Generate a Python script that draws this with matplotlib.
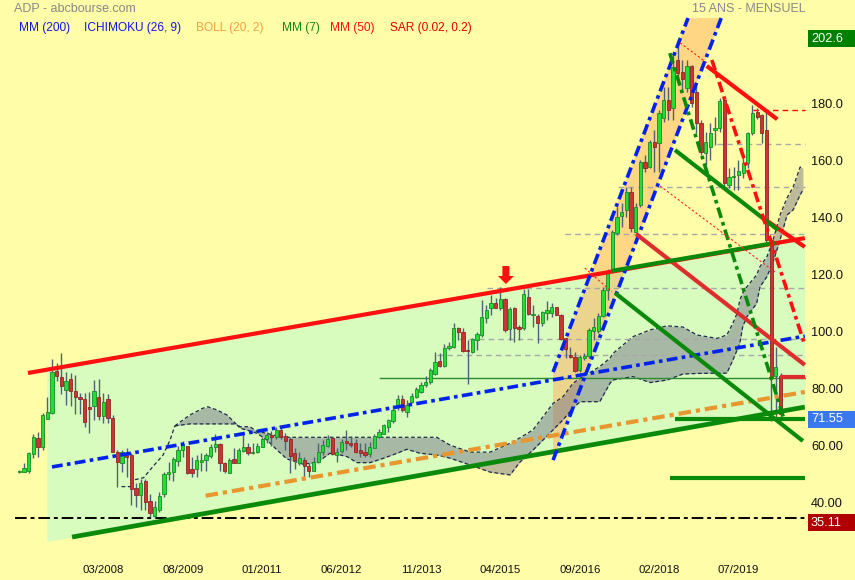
import numpy as np
import matplotlib
matplotlib.use("Agg")
import matplotlib.pyplot as plt
from matplotlib.patches import Polygon, Rectangle
import matplotlib.transforms as mtransforms

plt.rcParams['font.family'] = ['Liberation Sans', 'DejaVu Sans']

# ---------------- data (monthly OHLC, ADP) ----------------
opens = [51.3, 51.3, 51.7, 57.4, 63.0, 59.9, 69.9, 72.0, 86.7, 84.4,
         80.0, 83.7, 79.6, 77.4, 76.7, 73.9, 74.5, 77.4, 70.9, 76.7,
         70.1, 58.4, 54.3, 57.8, 57.2, 45.5, 43.2, 48.2, 40.9, 35.8,
         37.9, 43.5, 50.6, 51.3, 55.2, 58.9, 60.3, 52.2, 52.2, 54.9,
         55.4, 57.0, 59.9, 61.1, 54.3, 51.0, 55.8, 54.5, 58.7, 59.9,
         57.8, 58.1, 60.1, 62.8, 64.2, 63.6, 66.0, 63.9, 62.8, 57.8,
         54.3, 55.4, 53.3, 51.7, 54.9, 58.1, 60.5, 63.0, 57.2, 58.7,
         62.1, 61.5, 61.3, 58.9, 58.2, 57.5, 59.8, 63.6, 64.6, 67.1,
         69.2, 74.2, 76.8, 72.2, 75.9, 77.7, 79.4, 81.8, 82.7, 85.6,
         90.3, 88.5, 94.6, 95.2, 101.6, 100.2, 94.0, 93.5, 97.5, 99.3,
         105.1, 108.9, 110.4, 108.9, 111.8, 101.4, 108.7, 102.0, 101.6, 112.5,
         106.3, 106.0, 103.6, 106.9, 107.1, 109.0, 106.3, 98.1, 92.3, 91.7,
         87.0, 91.1, 91.9, 100.8, 100.8, 106.0, 115.1, 122.1, 135.2, 141.2,
         143.2, 149.6, 135.6, 144.9, 160.1, 158.4, 167.1, 166.5, 175.3, 181.7,
         178.8, 195.8, 191.7, 185.8, 193.7, 184.7, 173.6, 163.0, 165.4, 171.2,
         171.8, 181.7, 151.9, 154.6, 155.4, 156.2, 159.5, 170.1, 177.4, 176.5,
         171.2, 132.6, 84.9, 84.9]
highs = [51.9, 54.3, 58.4, 64.4, 65.4, 72.0, 77.4, 90.8, 89.4, 92.9,
         86.3, 86.1, 85.3, 79.1, 79.1, 79.2, 83.5, 83.7, 78.8, 78.5,
         71.2, 58.9, 58.9, 59.5, 57.8, 47.3, 48.7, 48.7, 43.5, 41.2,
         44.3, 51.3, 54.9, 56.4, 60.3, 62.1, 60.5, 56.6, 57.2, 58.0,
         58.0, 61.1, 64.6, 61.3, 54.9, 56.0, 59.5, 59.5, 65.4, 61.3,
         61.3, 61.3, 63.6, 65.4, 65.7, 67.1, 66.6, 64.8, 63.6, 59.5,
         58.4, 56.6, 54.3, 56.6, 61.3, 62.5, 64.2, 63.4, 59.5, 62.7,
         66.0, 63.9, 62.7, 61.3, 61.3, 61.9, 64.6, 66.2, 67.9, 69.7,
         74.7, 78.2, 78.2, 76.5, 78.8, 80.9, 82.9, 84.9, 87.6, 93.4,
         92.9, 96.1, 97.0, 103.4, 102.2, 101.6, 97.5, 98.1, 100.5, 111.6,
         109.8, 113.3, 112.2, 116.3, 112.2, 109.2, 109.2, 102.8, 115.3, 115.3,
         109.8, 106.6, 107.8, 111.3, 110.6, 109.2, 106.6, 98.3, 95.0, 93.5,
         92.3, 92.9, 101.6, 105.2, 106.9, 116.3, 122.3, 136.1, 144.3, 145.5,
         151.3, 151.3, 145.5, 160.7, 162.5, 167.7, 171.2, 178.2, 186.4, 186.4,
         198.1, 202.6, 195.8, 195.8, 194.0, 187.6, 174.7, 170.6, 173.6, 175.9,
         182.3, 182.9, 157.8, 158.4, 160.7, 162.5, 170.6, 180.0, 178.8, 176.8,
         178.2, 133.5, 95.1, 86.0]
lows = [50.8, 51.1, 51.0, 56.0, 56.4, 58.9, 69.7, 71.6, 83.3, 78.5,
        74.6, 74.5, 71.5, 71.5, 66.9, 64.8, 69.5, 69.5, 68.3, 68.3,
        58.1, 46.1, 51.3, 49.6, 39.6, 39.1, 37.9, 37.9, 35.6, 35.11,
        37.3, 42.6, 48.4, 48.2, 53.4, 56.6, 50.5, 49.4, 49.6, 51.7,
        51.7, 56.0, 58.4, 51.4, 50.8, 50.8, 54.3, 54.3, 58.4, 57.2,
        57.5, 57.8, 59.9, 61.3, 60.4, 62.7, 62.7, 58.9, 50.8, 52.2,
        53.7, 49.6, 49.6, 51.4, 54.3, 57.2, 60.1, 57.2, 54.9, 57.8,
        58.9, 60.1, 57.8, 56.6, 56.6, 56.6, 59.5, 63.0, 64.4, 65.4,
        68.3, 73.0, 72.4, 70.4, 75.3, 77.1, 79.1, 81.2, 82.1, 85.3,
        88.2, 88.2, 94.0, 94.6, 97.5, 93.5, 82.1, 93.1, 94.0, 98.7,
        103.4, 106.3, 108.7, 108.1, 100.5, 97.5, 97.0, 97.5, 101.0, 106.3,
        102.2, 96.4, 102.5, 104.6, 105.5, 106.2, 97.5, 91.1, 91.1, 86.4,
        86.4, 90.5, 91.1, 97.5, 100.1, 105.7, 111.6, 121.5, 134.4, 137.3,
        140.8, 135.6, 135.0, 144.3, 156.6, 157.8, 156.6, 156.6, 174.1, 174.7,
        174.7, 189.9, 184.7, 184.7, 179.4, 170.1, 162.5, 158.9, 160.7, 166.0,
        170.6, 150.8, 150.8, 150.2, 150.2, 154.3, 157.8, 169.5, 175.1, 166.5,
        132.0, 69.0, 69.5, 70.0]
closes = [51.3, 52.7, 57.8, 63.4, 60.1, 71.1, 72.3, 86.3, 85.0, 81.5,
          83.2, 79.8, 77.7, 76.8, 68.9, 73.4, 79.6, 71.0, 75.8, 70.3,
          58.4, 54.9, 58.4, 56.6, 45.1, 43.2, 47.5, 40.6, 36.7, 38.8,
          42.8, 50.4, 51.1, 55.9, 58.9, 61.0, 50.8, 50.8, 55.4, 55.4,
          57.2, 59.9, 61.1, 54.3, 51.7, 55.4, 54.5, 58.9, 60.1, 57.8,
          58.1, 60.5, 62.7, 64.2, 63.6, 66.0, 63.6, 62.2, 56.9, 55.4,
          56.0, 53.3, 51.7, 54.9, 58.1, 60.7, 62.8, 57.5, 58.4, 61.9,
          61.3, 60.8, 58.4, 58.0, 57.3, 59.9, 63.9, 65.1, 67.7, 69.5,
          73.0, 76.8, 73.0, 74.7, 78.0, 80.4, 81.8, 82.9, 87.0, 89.7,
          88.4, 94.9, 95.4, 101.6, 100.2, 93.8, 93.7, 97.8, 99.5, 105.5,
          108.1, 110.4, 108.9, 111.8, 101.0, 108.4, 101.6, 101.3, 113.7, 106.5,
          106.6, 103.4, 107.5, 108.1, 109.0, 106.3, 97.9, 94.3, 91.5, 86.8,
          91.5, 91.9, 101.0, 102.0, 106.1, 115.2, 120.9, 135.6, 140.8, 142.6,
          149.6, 136.7, 144.3, 160.1, 157.8, 167.1, 165.4, 177.1, 181.7, 178.2,
          193.5, 191.1, 189.0, 193.7, 180.6, 173.6, 163.6, 167.1, 170.1, 171.8,
          181.4, 152.5, 154.8, 154.8, 156.8, 159.5, 170.1, 177.1, 175.7, 170.3,
          132.6, 84.6, 88.2, 71.55]

x_tick_pos = [18, 35, 52, 69, 86, 103, 120, 137, 154]
x_tick_labels = ['03/2008', '08/2009', '01/2011', '06/2012', '11/2013',
                 '04/2015', '09/2016', '02/2018', '07/2019']
y_ticks = [180, 160, 140, 120, 100, 80, 60, 40]
y_tick_labels = ['180.0', '160.0', '140.0', '120.0', '100.0', '80.00', '60.00', '40.00']
high_price = 202.6
last_price = 71.55
low_price = 35.11

# Ichimoku cloud (index, span 1, span 2) and leading span line
cloud_x = [33.3, 36.5, 39.3, 40.4, 42.3, 44.5, 46.4, 47.3, 49.4, 50.9, 53.0, 55.2,
           57.3, 60.7, 63.7, 65.0, 66.5, 68.0, 70.2, 72.3, 75.1, 77.9, 80.9, 83.0,
           85.8, 89.4, 92.2, 96.5, 100.8, 105.1, 107.2, 110.0, 114.3, 116.4, 118.6,
           120.1, 124.3, 126.5, 127.1, 131.4, 135.1, 138.7, 142.1, 145.1, 149.4,
           151.5, 152.8, 153.7, 154.3, 154.9, 155.8, 157.9, 158.6, 160.1, 161.4,
           162.9, 164.4, 165.7, 167.2, 167.8]
cloud_a = [67.4, 71.2, 73.6, 74.1, 73.0, 71.2, 68.1, 67.1, 67.1, 65.4, 64.8, 63.9,
           63.4, 63.4, 63.4, 63.4, 63.4, 63.4, 63.4, 63.4, 63.4, 63.4, 63.4, 63.4,
           63.4, 63.4, 60.7, 58.2, 58.2, 61.3, 63.2, 66.0, 75.3, 77.6, 82.4,
           84.1, 88.2, 91.2, 92.8, 98.7, 101.1, 102.5, 102.1, 99.3, 98.1,
           99.3, 103.4, 106.9, 111.6, 114.0, 116.2, 120.4, 123.3, 126.8, 132.6,
           141.4, 147.4, 151.2, 158.2, 157.9]
cloud_b = [67.4, 68.1, 68.1, 68.1, 68.1, 68.1, 68.1, 66.6, 65.6, 64.8, 62.5, 58.9,
           55.8, 54.0, 54.5, 56.0, 57.8, 57.5, 56.6, 54.5, 54.5, 56.0, 57.8, 59.2,
           57.8, 57.2, 56.1, 53.7, 51.2, 50.2, 54.7, 58.9, 66.0, 69.5, 73.7,
           75.9, 75.9, 82.4, 83.5, 84.7, 82.6, 83.5, 85.6, 85.8, 85.9,
           85.9, 90.5, 94.0, 96.4, 102.2, 105.7, 110.4, 116.2, 119.8, 124.9,
           132.6, 141.4, 143.2, 148.4, 150.2]
lead_x = [21.9, 24.1, 24.4, 26.6, 28.7, 30.8, 32.3, 33.3]
lead_y = [46.1, 46.1, 48.4, 49.2, 53.3, 57.2, 62.5, 67.4]

# Drawn trend lines: ((x0, y0), (x1, y1)) in (month index, price)
main_red = ((1.86, 85.96), (168.2, 133.3))
main_green = ((11.3, 28.4), (168.2, 74.0))
channel_left_x = 5.9
red_thick = [((147.2, 193.7), (162.3, 175.0)), ((159.9, 139.6), (168.2, 130.2))]
red_mid = [((132.1, 134.7), (168.2, 88.8))]
green_thick = [((140.4, 164.2), (162.5, 136.1)), ((126.9, 121.8), (161.8, 131.6)),
               ((127.6, 114.0), (167.8, 62.1))]
green_levels = [(140.4, 69.8), (139.3, 49.0)]
blue_trend = ((7.0, 53.0), (168.2, 98.9))
blue_channel = [((114.3, 86.3), (143.2, 210.5)), ((114.3, 55.4), (150.3, 210.5))]
orange_trend = ((39.9, 42.9), (168.2, 79.3))
green_steep = ((139.3, 198.2), (163.8, 69.5))
red_steep = ((148.3, 195.8), (168.2, 95.8))
red_dotted = [((141.5, 201.8), (147.3, 194.7)), ((137.2, 151.6), (161.8, 121.4)),
              ((121.1, 122.8), (126.9, 114.4))]
gray_levels = [(149.3, 166.2), (128.2, 151.3), (116.9, 134.6), (100.1, 115.7),
               (94.2, 97.8), (89.4, 92.2)]
red_level = (157.1, 178.2)
thin_green_level = (77.2, 84.3)
red_last_level = (162.8, 84.6)
arrow_idx, arrow_top, arrow_tip = 104.2, 123.5, 117.2
x_end = 168.2

# ---------------- figure ----------------
W, H = 855, 580
BG = '#FFFDA8'
fig = plt.figure(figsize=(W / 100, H / 100), dpi=100, facecolor=BG)
ax = fig.add_axes([15 / W, 25 / H, 791 / W, 555 / H])
ax.set_facecolor('none')
ax.set_xlim(-0.92, 168.46)
ax.set_ylim(22.1, 216.84)
ax.axis('off')


def line_at(seg, x):
    (x0, y0), (x1, y1) = seg
    return y0 + (y1 - y0) * (np.asarray(x) - x0) / (x1 - x0)


# big green channel fill
xs = np.array([channel_left_x, x_end])
ax.fill_between(xs, line_at(main_green, xs), line_at(main_red, xs),
                color='#D8FBBE', lw=0, zorder=1)

# orange steep channel fill
(l0, l1), (r0, r1) = blue_channel
ax.add_patch(Polygon([l0, l1, r1, r0], closed=True, facecolor='#FFB060',
                     alpha=0.5, lw=0, zorder=1.2))

# ichimoku cloud
ax.fill_between(cloud_x, cloud_a, cloud_b, color='#6C6A88', alpha=0.45, lw=0, zorder=1.5)
ax.plot(cloud_x, cloud_a, color='#1E2A4A', lw=0.9, ls=(0, (3, 2)), zorder=1.6)
ax.plot(cloud_x, cloud_b, color='#1E2A4A', lw=0.9, ls=(0, (3, 2)), zorder=1.6)
ax.plot(lead_x, lead_y, color='#1E2A4A', lw=0.9, ls=(0, (3, 2)), zorder=1.6)

# horizontal levels
for x0, v in gray_levels:
    ax.plot([x0, x_end], [v, v], color='#A8A8A8', lw=1.0, ls=(0, (4, 3)), zorder=2)
ax.plot([red_level[0], x_end], [red_level[1]] * 2, color='#FF0000', lw=1.0,
        ls=(0, (4, 3)), zorder=2)
ax.plot([thin_green_level[0], x_end], [thin_green_level[1]] * 2, color='#2E8B2E',
        lw=1.0, zorder=2)
ax.plot([-0.92, x_end], [low_price, low_price], color='#000000', lw=1.4,
        ls=(0, (6, 2, 2, 2)), zorder=2)

# candles
o = np.array(opens); h = np.array(highs); l = np.array(lows); c = np.array(closes)
idx = np.arange(len(o))
up = c >= o
ax.vlines(idx, l, h, color='#4F6378', lw=1.0, zorder=3)
bb = np.minimum(o, c)
bh = np.maximum(np.abs(c - o), 0.4)
ax.bar(idx[up], bh[up], bottom=bb[up], width=0.7, color='#22DD33',
       edgecolor='#1A8A2A', lw=0.6, zorder=3.1)
ax.bar(idx[~up], bh[~up], bottom=bb[~up], width=0.7, color='#CC3333',
       edgecolor='#8E2626', lw=0.6, zorder=3.1)

# trend lines
def seg(s, **kw):
    (x0, y0), (x1, y1) = s
    ax.plot([x0, x1], [y0, y1], solid_capstyle='butt', **kw)

seg(main_red, color='#FF1010', lw=3.0, zorder=4)
seg(main_green, color='#0A8A0A', lw=3.4, zorder=4)
seg(blue_trend, color='#0022EE', lw=2.6, ls=(0, (3, 1.2, 1, 1.2)), zorder=4)
seg(orange_trend, color='#E8962E', lw=3.0, ls=(0, (3, 1.2, 1, 1.2)), zorder=4)
for s in blue_channel:
    seg(s, color='#0022EE', lw=2.6, ls=(0, (3, 1.2, 1, 1.2)), zorder=4)
for s in red_thick:
    seg(s, color='#FF1010', lw=3.0, zorder=4)
for s in red_mid:
    seg(s, color='#DD2D2D', lw=3.0, zorder=4)
for s in green_thick:
    seg(s, color='#0A8A0A', lw=3.0, zorder=4)
for x0, v in green_levels:
    ax.plot([x0, x_end], [v, v], color='#0A8A0A', lw=3.0, solid_capstyle='butt', zorder=4)
seg(green_steep, color='#0A8A0A', lw=2.6, ls=(0, (3, 1.2, 1, 1.2)), zorder=4)
seg(red_steep, color='#FF1010', lw=2.6, ls=(0, (3, 1.2, 1, 1.2)), zorder=4)
for s in red_dotted:
    seg(s, color='#FF2020', lw=0.8, ls=(0, (2, 2)), zorder=4)
ax.plot([red_last_level[0], x_end], [red_last_level[1]] * 2, color='#DD2D2D',
        lw=3.0, solid_capstyle='butt', zorder=4)

# red arrow
hw_shaft, hw_head = 0.75, 1.7
head_len = 2.8
arrow = [(arrow_idx - hw_shaft, arrow_top), (arrow_idx + hw_shaft, arrow_top),
         (arrow_idx + hw_shaft, arrow_tip + head_len), (arrow_idx + hw_head, arrow_tip + head_len),
         (arrow_idx, arrow_tip), (arrow_idx - hw_head, arrow_tip + head_len),
         (arrow_idx - hw_shaft, arrow_tip + head_len)]
ax.add_patch(Polygon(arrow, closed=True, facecolor='#FF1010', edgecolor='none', zorder=5))

# ---------------- texts ----------------
def fx(px):
    return px / W

def fy(py):
    return 1 - py / H

fig.text(fx(14), fy(9), 'ADP - abcbourse.com', color='#888888', fontsize=9,
         va='center', ha='left')
fig.text(fx(806), fy(9), '15 ANS - MENSUEL', color='#888888', fontsize=9,
         va='center', ha='right')
legend_items = [('MM (200)', '#1414E6', 19), ('ICHIMOKU (26, 9)', '#1414E6', 84),
                ('BOLL (20, 2)', '#F5A040', 196), ('MM (7)', '#108A10', 282),
                ('MM (50)', '#FF1010', 330), ('SAR (0.02, 0.2)', '#E00000', 390)]
for txt, col, px in legend_items:
    fig.text(fx(px), fy(28), txt, color=col, fontsize=8.6, va='center', ha='left')

trans_y = mtransforms.blended_transform_factory(fig.transFigure, ax.transData)
for v, lab in zip(y_ticks, y_tick_labels):
    ax.text(fx(811), v, lab, transform=trans_y, fontsize=9.2, color='#111111',
            va='center', ha='left')

trans_x = mtransforms.blended_transform_factory(ax.transData, fig.transFigure)
for p, lab in zip(x_tick_pos, x_tick_labels):
    ax.text(p, fy(570), lab, transform=trans_x, fontsize=8.2, color='#111111',
            va='center', ha='center', family=['Liberation Sans Narrow', 'Liberation Sans'])

# price boxes on the right axis
for val, col, off in [(high_price, '#008000', -2), (last_price, '#3A78F0', 5),
                      (low_price, '#B00000', 5)]:
    yc = ax.transData.transform((0, val))[1] / H - off / H * 0 
    ypix = H - ax.transData.transform((0, val))[1] + off
    fig.patches.append(Rectangle((fx(808), fy(ypix + 8.5)), 47 / W, 17 / H,
                                 transform=fig.transFigure, facecolor=col,
                                 edgecolor='none', zorder=5))
    fig.text(fx(811), fy(ypix), f'{val:g}' if val != last_price else '71.55',
             color='white', fontsize=9.2, va='center', ha='left', zorder=6)

fig.savefig('out.png', dpi=100, facecolor=BG)
